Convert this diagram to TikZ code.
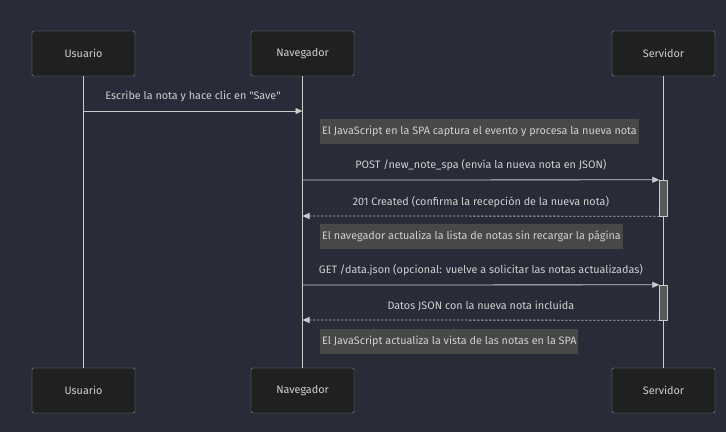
\documentclass[tikz,border=0pt]{standalone}
\usepackage{fontspec}
\setmainfont{Fira Sans}
\usetikzlibrary{arrows.meta,positioning}

\definecolor{bgcol}{HTML}{282C38}
\definecolor{boxcol}{HTML}{1F2020}
\definecolor{edgecol}{HTML}{8A8D93}
\definecolor{linecol}{HTML}{CCCCCC}
\definecolor{notecol}{HTML}{474949}
\definecolor{txtcol}{HTML}{D0D0D0}

\tikzset{
  actor/.style={draw=edgecol,fill=boxcol,rounded corners=1.5pt,minimum width=103pt,minimum height=45pt,text=txtcol,font=\fontsize{10.8}{13}\selectfont},
  lifeline/.style={draw=linecol,line width=0.8pt},
  note/.style={fill=notecol,anchor=west,minimum height=25pt,inner xsep=2pt,text=txtcol,font=\fontsize{10.8}{13}\selectfont},
  msglabel/.style={text=txtcol,font=\fontsize{10.8}{13}\selectfont},
  msg/.style={draw=linecol,line width=0.8pt,-{Triangle[length=7pt,width=6pt]}},
  reply/.style={msg,dash pattern=on 2pt off 2pt},
  activation/.style={draw=linecol,fill=gray!70!black,minimum width=8pt,inner sep=0pt}
}

\begin{document}
\begin{tikzpicture}[x=1pt,y=-1pt]
  \fill[bgcol] (0,0) rectangle (726,432);
  \useasboundingbox (0,0) rectangle (726,432);

  % actors
  \node[actor] (usrTop) at (83.5,53.5) {Usuario};
  \node[actor] (navTop) at (302.5,53.5) {Navegador};
  \node[actor] (srvTop) at (663.5,53.5) {Servidor};
  \node[actor] (usrBot) at (83.5,390.5) {Usuario};
  \node[actor] (navBot) at (302.5,390.5) {Navegador};
  \node[actor] (srvBot) at (663.5,390.5) {Servidor};

  \draw[lifeline] (usrTop) -- (usrBot);
  \draw[lifeline] (navTop) -- (navBot);
  \draw[lifeline] (srvTop) -- (srvBot);

  % activations
  \node[activation,minimum height=36pt] (actPost) at (663.5,198) {};
  \node[activation,minimum height=35pt] (actGet) at (663.5,302.5) {};

  % points on the lifelines
  \coordinate (usrSave) at (83.5,111);
  \coordinate (navSave) at (302.5,111);
  \coordinate (navPost) at (302.5,180);
  \coordinate (navBack) at (302.5,216);
  \coordinate (navGet) at (302.5,285);
  \coordinate (navData) at (302.5,320);

  % messages
  \draw[msg] (usrSave) -- node[msglabel,above=5pt] {Escribe la nota y hace clic en \textquotedbl Save\textquotedbl} (navSave);
  \node[note] (noteOne) at (320,131.5) {El JavaScript en la SPA captura el evento y procesa la nueva nota};
  \draw[msg] (navPost) -- node[msglabel,above=5pt] {POST /new\_note\_spa (envía la nueva nota en JSON)} (actPost.north west);
  \draw[reply] (actPost.south west) -- node[msglabel,above=5pt] {201 Created (confirma la recepción de la nueva nota)} (navBack);
  \node[note] (noteTwo) at (320,236.5) {El navegador actualiza la lista de notas sin recargar la página};
  \draw[msg] (navGet) -- node[msglabel,above=5pt] {GET /data.json (opcional: vuelve a solicitar las notas actualizadas)} (actGet.north west);
  \draw[reply] (actGet.south west) -- node[msglabel,above=5pt] {Datos JSON con la nueva nota incluida} (navData);
  \node[note] (noteThree) at (320,341) {El JavaScript actualiza la vista de las notas en la SPA};
\end{tikzpicture}
\end{document}
